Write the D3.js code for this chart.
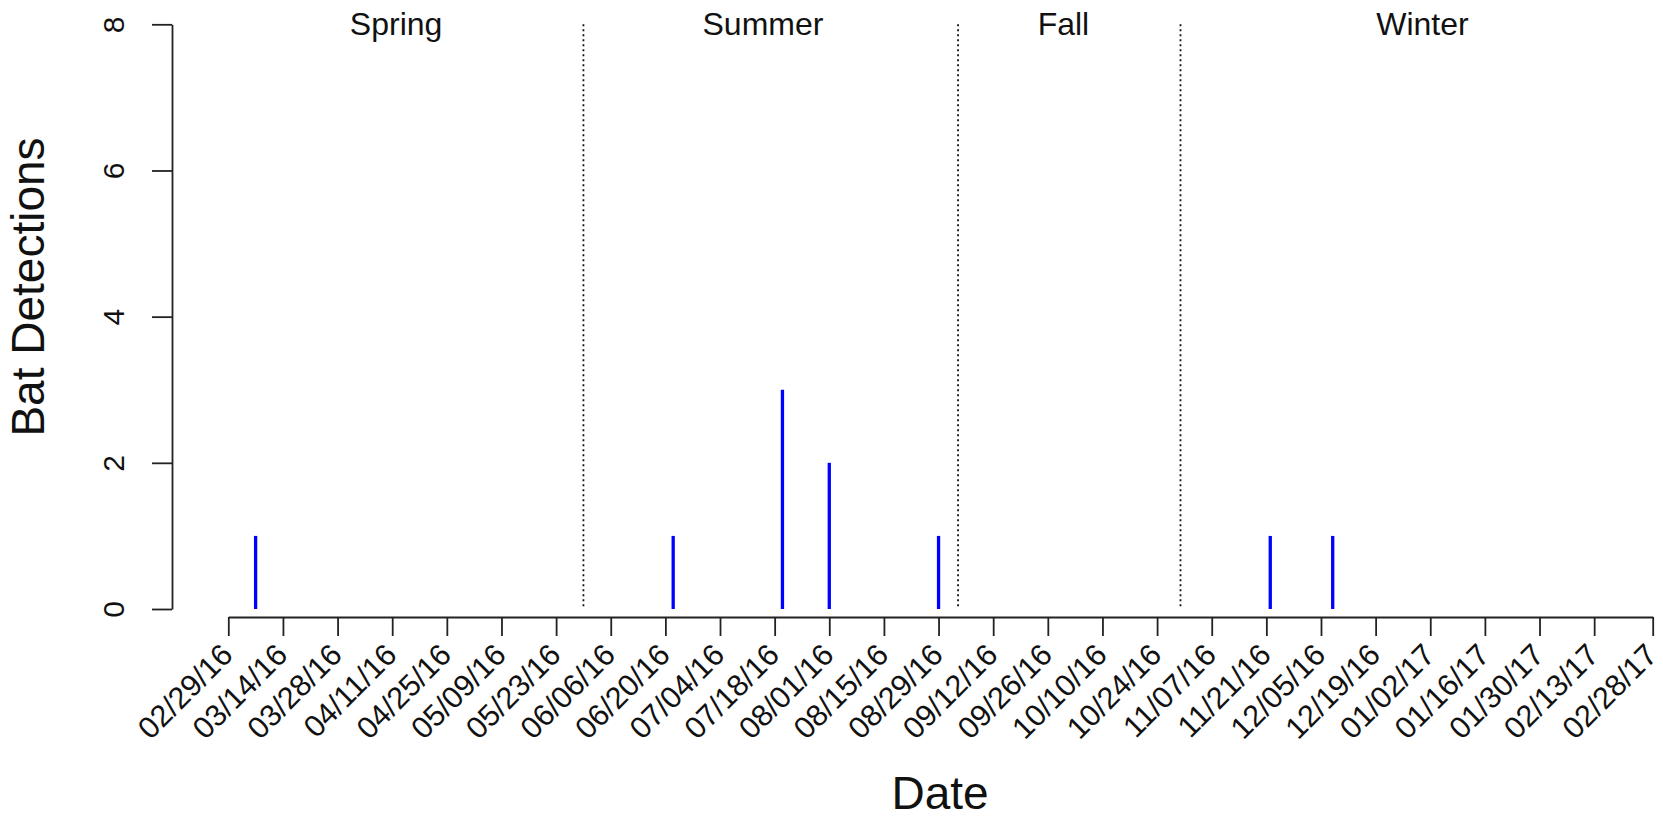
<!DOCTYPE html>
<html>
<head>
<meta charset="utf-8">
<title>Bat Detections by Date</title>
<script src="https://cdn.jsdelivr.net/npm/d3@7"></script>
<style>
  html, body { margin: 0; padding: 0; background: #fff; }
  svg { display: block; }
  text { font-family: "Liberation Sans", Arial, Helvetica, sans-serif; fill: #111; }
</style>
</head>
<body>
<svg id="chart" width="1663" height="819"></svg>
<script>
// Nightly detections (date, count)
const detectionDates = ["03/07/16", "06/22/16", "07/20/16", "08/01/16", "08/29/16", "11/22/16", "12/08/16"];
const detectionCounts = [1, 1, 3, 2, 1, 1, 1];

// Season boundaries (dotted lines) and season label positions
const seasonNames = ["Spring", "Summer", "Fall", "Winter"];
const seasonLabelDates = ["04/12/16", "07/15/16", "09/30/16", "12/31/16"];
const seasonBreakDates = ["05/30/16", "09/03/16", "10/30/16"];

// Axis ticks
const xTickLabels = ["02/29/16", "03/14/16", "03/28/16", "04/11/16", "04/25/16", "05/09/16",
  "05/23/16", "06/06/16", "06/20/16", "07/04/16", "07/18/16", "08/01/16", "08/15/16",
  "08/29/16", "09/12/16", "09/26/16", "10/10/16", "10/24/16", "11/07/16", "11/21/16",
  "12/05/16", "12/19/16", "01/02/17", "01/16/17", "01/30/17", "02/13/17", "02/28/17"];
const yTicks = [0, 2, 4, 6, 8];

const parse = d3.utcParse("%m/%d/%y");
const fmt = d3.utcFormat("%m/%d/%y");

const svg = d3.select("#chart");

const x = d3.scaleUtc()
  .domain([parse(xTickLabels[0]), parse(xTickLabels[xTickLabels.length - 1])])
  .range([228.3, 1652.7]);

const y = d3.scaleLinear()
  .domain([0, 8])
  .range([609, 24.3]);

const axisX = 172;     // position of the y axis line
const axisY = 617;     // position of the x axis line

// Y axis
const yAxis = svg.append("g")
  .attr("transform", `translate(${axisX},0)`)
  .call(d3.axisLeft(y).tickValues(yTicks).tickSize(20).tickSizeOuter(0).tickFormat(d3.format("d")));
yAxis.select(".domain").attr("stroke", "#222").attr("stroke-width", 1.8);
yAxis.selectAll(".tick line").attr("stroke", "#222").attr("stroke-width", 1.8);
yAxis.selectAll(".tick text")
  .attr("x", null).attr("dy", null)
  .attr("transform", "translate(-48,0) rotate(-90)")
  .attr("text-anchor", "middle")
  .style("font-size", "30px")
  .style("font-family", "'Liberation Sans', Arial, sans-serif")
  .attr("fill", "#111");

// X axis
const xAxis = svg.append("g")
  .attr("transform", `translate(0,${axisY})`)
  .call(d3.axisBottom(x).tickValues(xTickLabels.map(parse)).tickSize(19).tickSizeOuter(0).tickFormat(fmt));
xAxis.select(".domain").attr("stroke", "#222").attr("stroke-width", 1.8);
xAxis.selectAll(".tick line").attr("stroke", "#222").attr("stroke-width", 1.8);
xAxis.selectAll(".tick text")
  .attr("y", null).attr("dy", null)
  .attr("transform", "translate(-2,32) rotate(-45)")
  .attr("text-anchor", "end")
  .attr("dominant-baseline", "central")
  .style("font-size", "30.5px")
  .style("font-family", "'Liberation Sans', Arial, sans-serif")
  .attr("fill", "#111");

// Season boundaries
svg.append("g").selectAll("line")
  .data(seasonBreakDates)
  .join("line")
  .attr("x1", d => x(parse(d))).attr("x2", d => x(parse(d)))
  .attr("y1", y(8)).attr("y2", y(0))
  .attr("stroke", "#111")
  .attr("stroke-width", 1.8)
  .attr("stroke-dasharray", "2,3");

// Season labels
svg.append("g").selectAll("text")
  .data(seasonNames)
  .join("text")
  .attr("x", (d, i) => x(parse(seasonLabelDates[i])))
  .attr("y", 35)
  .attr("text-anchor", "middle")
  .style("font-size", "32px")
  .text(d => d);

// Detection spikes
svg.append("g").selectAll("line")
  .data(detectionDates.map((d, i) => ({ date: parse(d), count: detectionCounts[i] })))
  .join("line")
  .attr("x1", d => x(d.date)).attr("x2", d => x(d.date))
  .attr("y1", y(0)).attr("y2", d => y(d.count))
  .attr("stroke", "#0000ff")
  .attr("stroke-width", 3.3);

// Axis titles
svg.append("text")
  .attr("transform", "translate(44,287) rotate(-90)")
  .attr("text-anchor", "middle")
  .style("font-size", "46px")
  .text("Bat Detections");

svg.append("text")
  .attr("x", 940)
  .attr("y", 809)
  .attr("text-anchor", "middle")
  .style("font-size", "46px")
  .text("Date");
</script>
</body>
</html>
